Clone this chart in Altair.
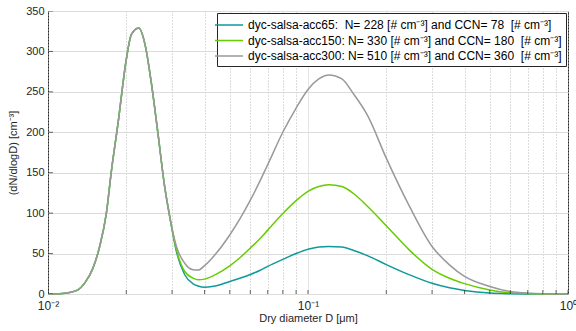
import altair as alt
import pandas as pd

# Dry diameter D [um] sample points
diameter_um = [0.0100, 0.01109, 0.01212, 0.01304, 0.01384, 0.01489, 0.01581, 0.01677,
               0.01753, 0.01859, 0.02000, 0.02093, 0.02232, 0.02371, 0.02497, 0.02647,
               0.02809, 0.02938, 0.03118, 0.03356, 0.03612, 0.03775, 0.04000, 0.04443,
               0.05000, 0.05500, 0.06000, 0.06518, 0.07000, 0.08000, 0.09000, 0.10000,
               0.11000, 0.12020, 0.13500, 0.15000, 0.17000, 0.20000, 0.24600, 0.30000,
               0.35000, 0.40000, 0.50000, 0.60000, 0.70000, 0.80000, 1.00000]

# Aitken mode shared by all three runs (first 18 points)
shared_mode = [0, 0.3, 1.9, 5.2, 13.5, 32, 59, 100, 152, 211, 290, 321, 329, 306, 261, 199, 133, 96]

# Remaining points for each run
acc65_tail = [52.6, 23.8, 12.6, 10, 8.5, 10.1, 15.5, 19.8, 24.2, 29, 34.2, 42.8, 50, 55.3,
              58, 58.8, 58, 53.8, 47.2, 36.4, 23.6, 13.2, 7.6, 4.3, 1.1, 0.3, 0.1, 0, 0]
acc150_tail = [54.7, 27.8, 19.7, 17.6, 18.4, 24.6, 34.9, 45.5, 56.8, 68, 79, 99.5, 115.5, 127,
               133, 135, 133, 124, 108, 84.5, 54, 30.5, 19.5, 12.8, 5, 1.5, 0.5, 0.1, 0]
acc300_tail = [58.8, 38, 30, 29.6, 35, 50.6, 73, 94, 116, 139, 160, 200, 230, 253,
               266, 271, 266, 247, 220, 168, 108, 58.8, 36, 21.7, 9.3, 3, 1, 0.3, 0]

NB = "\u00a0"
SUP = "\u207b\u00b3"
series_labels = [
    f"dyc-salsa-acc65:{NB}{NB}N= 228 [# cm{SUP}] and CCN= 78{NB}{NB}[# cm{SUP}]",
    f"dyc-salsa-acc150: N= 330 [# cm{SUP}] and CCN= 180{NB}{NB}[# cm{SUP}]",
    f"dyc-salsa-acc300: N= 510 [# cm{SUP}] and CCN= 360{NB}{NB}[# cm{SUP}]",
]
series_colors = ["#0f9a9a", "#66cc00", "#999999"]

x_tick_values = [0.01, 0.02, 0.03, 0.04, 0.05, 0.06, 0.07, 0.08, 0.09,
                 0.1, 0.2, 0.3, 0.4, 0.5, 0.6, 0.7, 0.8, 0.9, 1.0]
y_tick_values = [0, 50, 100, 150, 200, 250, 300, 350]

rows = []
for label, tail in zip(series_labels, [acc65_tail, acc150_tail, acc300_tail]):
    for d, v in zip(diameter_um, shared_mode + tail):
        rows.append({"D": d, "value": v, "series": label})
df = pd.DataFrame(rows)

FONT = "Liberation Sans"
TXT = "#262626"

xscale = alt.Scale(type="log", domain=[0.01, 1])
yscale = alt.Scale(domain=[0, 350], nice=False)

x_axis = alt.Axis(
    title="Dry diameter D [\u03bcm]",
    values=x_tick_values,
    labelExpr="datum.value == 0.01 ? '10\u207b\u00b2' : datum.value == 0.1 ? '10\u207b\u00b9' : datum.value == 1 ? '10\u2070' : ''",
    grid=True,
    gridColor={"condition": {"test": "datum.value == 0.1", "value": "#dcdcdc"}, "value": "#b8b8b8"},
    gridDash={"condition": {"test": "datum.value == 0.1", "value": [1, 0]}, "value": [1, 2]},
    gridWidth=1,
    ticks=False,
    domain=False,
    labelOverlap=False,
    labelFlush=False,
    labelPadding=6,
    labelFontSize=12,
    titleFontSize=11,
    titlePadding=1,
    titleFontWeight="normal",
)
y_axis = alt.Axis(
    title="(dN/dlogD) [cm\u207b\u00b3]",
    values=y_tick_values,
    grid=True,
    gridColor="#dcdcdc",
    gridWidth=1,
    ticks=False,
    domain=False,
    labelPadding=4,
    labelFontSize=11,
    titleFontSize=11,
    titlePadding=7,
    titleFontWeight="normal",
)

lines = alt.Chart(df).mark_line(strokeWidth=1.5, interpolate="monotone").encode(
    x=alt.X("D:Q", scale=xscale, axis=x_axis),
    y=alt.Y("value:Q", scale=yscale, axis=y_axis),
    color=alt.Color(
        "series:N",
        scale=alt.Scale(domain=series_labels, range=series_colors),
        legend=alt.Legend(
            title=None,
            orient="top-right",
            offset=2,
            fillColor="white",
            strokeColor=TXT,
            padding=4,
            symbolType="M-2,0H2",
            symbolSize=196,
            symbolStrokeWidth=1.5,
            symbolOffset=0,
            labelFontSize=12,
            labelFont=FONT,
            labelColor="black",
            labelLimit=0,
            labelOffset=11,
            rowPadding=1.5,
        ),
    ),
    detail="series:N",
)

xticks = alt.Chart(pd.DataFrame({"t": x_tick_values})).mark_tick(
    orient="vertical", size=8, thickness=1, color=TXT, clip=True
).encode(x=alt.X("t:Q", scale=xscale), y=alt.datum(0))

yticks = alt.Chart(pd.DataFrame({"t": y_tick_values})).mark_tick(
    orient="horizontal", size=10, thickness=1, color=TXT, clip=True
).encode(y=alt.Y("t:Q", scale=yscale), x=alt.datum(0.01))

chart = alt.layer(lines, xticks, yticks).properties(
    width=520,
    height=283,
    autosize=alt.AutoSizeParams(type="none"),
    padding={"left": 48, "top": 11, "right": 8, "bottom": 37},
    background="white",
).configure_view(
    stroke=TXT, strokeWidth=1
).configure_axis(
    labelFont=FONT, titleFont=FONT, labelColor=TXT, titleColor=TXT
)

chart.save("out.html", embed_options={"renderer": "svg", "actions": False})
